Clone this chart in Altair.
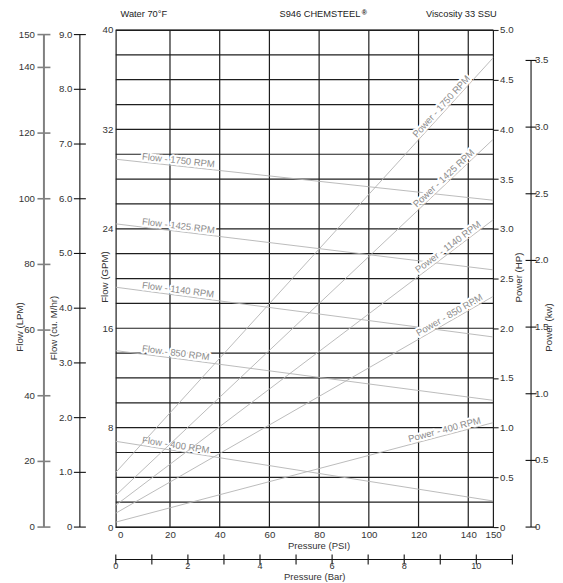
import math
import altair as alt
import pandas as pd

# ---------------- values ----------------
rpm = ["1750", "1425", "1140", "850", "400"]
curve_psi = [-1.8, 150.0]            # curves run from the left border to 150 PSI
flow_1750 = [29.6, 26.3]
flow_1425 = [24.4, 20.7]
flow_1140 = [19.3, 15.3]
flow_850 = [14.2, 10.2]
flow_400 = [6.9, 2.1]
power_1750 = [0.55, 4.72]
power_1425 = [0.32, 3.90]
power_1140 = [0.22, 3.09]
power_850 = [0.14, 2.32]
power_400 = [0.05, 1.05]

flow_label_psi = [8.5, 8.5, 8.5, 8.5, 8.5]
power_label_psi = [120.0, 120.0, 120.5, 120.5, 116.5]

psi_ticks = [0, 20, 40, 60, 80, 100, 120, 140, 150]
psi_grid = [20, 40, 60, 80, 100, 120, 140]
gpm_ticks = [0, 8, 16, 24, 32, 40]
gpm_grid = list(range(0, 41, 2))
hp_ticks = [0, 0.5, 1.0, 1.5, 2.0, 2.5, 3.0, 3.5, 4.0, 4.5, 5.0]
lpm_ticks = [0, 20, 40, 60, 80, 100, 120, 140, 150]
m3h_ticks = [0, 1, 2, 3, 4, 5, 6, 7, 8, 9]
kw_ticks = [0, 0.5, 1.0, 1.5, 2.0, 2.5, 3.0, 3.5]
bar_ticks = list(range(0, 12))
bar_label_ticks = [0, 2, 4, 6, 8, 10]

LPM_PER_GPM = 3.785
M3H_PER_GPM = 0.2271
KW_PER_HP = 0.7457
PSI_PER_BAR = 14.5038

# ---------------- layout constants ----------------
W, H = 378, 498
XMIN, XMAX = -1.8, 150.0
GPM_MAX, HP_MAX = 40, 5
FONT = "Liberation Sans"
GRID = "#1e1e1e"
CURVE = "#b4b4b4"
CURVE_TXT = "#8c8c8c"
TXT = "#333333"
PX_PSI = W / (XMAX - XMIN)
PX_GPM = H / GPM_MAX
PX_HP = H / HP_MAX

flows = [flow_1750, flow_1425, flow_1140, flow_850, flow_400]
powers = [power_1750, power_1425, power_1140, power_850, power_400]

flow_df = pd.DataFrame([{"rpm": r, "psi": p, "gpm": v}
                        for r, vals in zip(rpm, flows) for p, v in zip(curve_psi, vals)])
power_df = pd.DataFrame([{"rpm": r, "psi": p, "hp": v}
                         for r, vals in zip(rpm, powers) for p, v in zip(curve_psi, vals)])


def on_line(vals, p):
    return vals[0] + (vals[1] - vals[0]) * (p - curve_psi[0]) / (curve_psi[1] - curve_psi[0])


def slope(vals):
    return (vals[1] - vals[0]) / (curve_psi[1] - curve_psi[0])


flow_lab = pd.DataFrame([{
    "psi": lp, "gpm": on_line(v, lp), "label": f"Flow - {r} RPM",
    "ang": math.degrees(math.atan(-slope(v) * PX_GPM / PX_PSI))}
    for r, v, lp in zip(rpm, flows, flow_label_psi)])
power_lab = pd.DataFrame([{
    "psi": lp, "hp": on_line(v, lp), "label": f"Power - {r} RPM",
    "ang": 360 - math.degrees(math.atan(slope(v) * PX_HP / PX_PSI))}
    for r, v, lp in zip(rpm, powers, power_label_psi)])

xs = alt.Scale(domain=[XMIN, XMAX], nice=False, zero=False)
ys_gpm = alt.Scale(domain=[0, GPM_MAX], nice=False, zero=False)
ys_hp = alt.Scale(domain=[0, HP_MAX], nice=False, zero=False)

x_axis = alt.Axis(values=psi_ticks, title=None, grid=False, ticks=False, domain=False,
                  labelPadding=2.5, labelFlush=False, labelOverlap=False)
gpm_axis = alt.Axis(orient="left", values=gpm_ticks, title=None, grid=False, ticks=False,
                    domain=False, labelPadding=3, labelFlush=False, labelOverlap=False)
hp_axis = alt.Axis(orient="right", values=hp_ticks, title=None, grid=False, ticks=True,
                   tickSize=5, tickColor="#222", tickWidth=1.1, domain=False, labelPadding=1.5,
                   labelFlush=False, labelOverlap=False,
                   labelExpr="datum.value == 0 ? '0' : format(datum.value, '.1f')")


def X(field="psi"):
    return alt.X(f"{field}:Q", scale=xs, axis=x_axis)


def YG(field="gpm"):
    return alt.Y(f"{field}:Q", scale=ys_gpm, axis=gpm_axis)


def YH(field="hp"):
    return alt.Y(f"{field}:Q", scale=ys_hp, axis=hp_axis)


def one():
    return alt.Data(values=[{}])


def static_text(text, x, y, align="left", angle=0, size=9.7, weight="normal", color=TXT, baseline="alphabetic"):
    return alt.Chart(one()).mark_text(
        text=text, align=align, baseline=baseline, angle=angle, fontSize=size,
        fontWeight=weight, color=color, font=FONT
    ).encode(x=alt.value(x), y=alt.value(y))


# ---------------- left (GPM) group ----------------
hgrid = alt.Chart(pd.DataFrame({"gpm": gpm_grid})).mark_rule(color=GRID, strokeWidth=1.2).encode(y=YG())
vgrid = alt.Chart(pd.DataFrame({"psi": psi_grid})).mark_rule(color=GRID, strokeWidth=1.2).encode(x=X())
flow_lines = alt.Chart(flow_df).mark_line(color=CURVE, strokeWidth=0.9).encode(
    x=X(), y=YG(), detail="rpm:N")
flow_halo = alt.Chart(flow_lab).mark_text(
    align="left", baseline="alphabetic", dy=-2.5, fontSize=9.5, font=FONT,
    fill="white", stroke="white", strokeWidth=4, strokeJoin="round").encode(
    x=X(), y=YG(), text="label:N", angle=alt.Angle("ang:Q", scale=None))
flow_text = alt.Chart(flow_lab).mark_text(
    align="left", baseline="alphabetic", dy=-2.5, fontSize=9.5, font=FONT, color=CURVE_TXT).encode(
    x=X(), y=YG(), text="label:N", angle=alt.Angle("ang:Q", scale=None))

# LPM axis (far left)
lpm_df = pd.DataFrame({"v": lpm_ticks})
lpm_df["gpm"] = lpm_df["v"] / LPM_PER_GPM
lpm_df["lab"] = lpm_df["v"].map(lambda v: f"{v:g}")
lpm_line = alt.Chart(pd.DataFrame({"gpm": [0.0], "gpm2": [max(lpm_ticks) / LPM_PER_GPM]})).mark_rule(
    color="#808080", strokeWidth=2).encode(x=alt.value(-72), y=YG(), y2="gpm2:Q")
lpm_tk = alt.Chart(lpm_df).mark_rule(color="#808080", strokeWidth=1.6).encode(
    x=alt.value(-78.5), x2=alt.value(-65.5), y=YG())
lpm_lab = alt.Chart(lpm_df).mark_text(align="right", baseline="middle", fontSize=9.7, font=FONT,
                                      color=TXT).encode(x=alt.value(-81), y=YG(), text="lab:N")

# cu. M/hr axis
m3_df = pd.DataFrame({"v": m3h_ticks})
m3_df["gpm"] = m3_df["v"] / M3H_PER_GPM
m3_df["lab"] = m3_df["v"].map(lambda v: "0" if v == 0 else f"{v:.1f}")
m3_line = alt.Chart(pd.DataFrame({"gpm": [0.0], "gpm2": [max(m3h_ticks) / M3H_PER_GPM]})).mark_rule(
    color="#111", strokeWidth=1.1).encode(x=alt.value(-36), y=YG(), y2="gpm2:Q")
m3_tk = alt.Chart(m3_df).mark_rule(color="#111", strokeWidth=1.1).encode(
    x=alt.value(-42), x2=alt.value(-30), y=YG())
m3_lab = alt.Chart(m3_df).mark_text(align="right", baseline="middle", fontSize=9.7, font=FONT,
                                    color=TXT).encode(x=alt.value(-43.5), y=YG(), text="lab:N")

# Bar axis (below the PSI axis)
bar_df = pd.DataFrame({"b": bar_ticks})
bar_df["psi"] = XMIN + bar_df["b"] * PSI_PER_BAR
barl_df = pd.DataFrame({"b": bar_label_ticks})
barl_df["psi"] = XMIN + barl_df["b"] * PSI_PER_BAR
barl_df["lab"] = barl_df["b"].map(str)
bar_line = alt.Chart(pd.DataFrame({"psi": [XMIN], "psi2": [XMIN + max(bar_ticks) * PSI_PER_BAR]})).mark_rule(
    color="#111", strokeWidth=1.1).encode(x=X(), x2="psi2:Q", y=alt.value(530.5))
bar_tk = alt.Chart(bar_df).mark_rule(color="#111", strokeWidth=1.1).encode(
    x=X(), y=alt.value(525.5), y2=alt.value(535.5))
bar_lab = alt.Chart(barl_df).mark_text(align="center", baseline="top", fontSize=9.2, font=FONT,
                                       color=TXT).encode(x=X(), y=alt.value(533), text="lab:N")

titles = [
    static_text("Water 70°F", 4.7, -12.8, size=9.3, color="#222"),
    static_text("S946 CHEMSTEEL", 164, -12.8, size=9.3, color="#222"),
    static_text("®", 246.5, -15.5, size=7, weight="bold", color="#222"),
    static_text("Viscosity 33 SSU", 381.7, -12.8, size=9.3, align="right", color="#222"),
    static_text("Flow (LPM)", -96, 297.5, align="center", angle=270, baseline="middle"),
    static_text("Flow (cu. M/hr)", -62, 298.5, align="center", angle=270, baseline="middle"),
    static_text("Flow (GPM)", -11, 247.5, align="center", angle=270, baseline="middle"),
    static_text("Power (HP)", 404, 248, align="center", angle=270, baseline="middle"),
    static_text("Power (kw)", 434, 298, align="center", angle=270, baseline="middle"),
    static_text("Pressure (PSI)", 203.6, 517, align="center", baseline="middle", size=9.5),
    static_text("Pressure (Bar)", 199.3, 548, align="center", baseline="middle", size=9.5),
]

left = alt.layer(hgrid, vgrid, flow_lines, flow_halo, flow_text,
                 lpm_line, lpm_tk, lpm_lab, m3_line, m3_tk, m3_lab,
                 bar_line, bar_tk, bar_lab, *titles)

# ---------------- right (HP) group ----------------
power_lines = alt.Chart(power_df).mark_line(color=CURVE, strokeWidth=0.9).encode(
    x=X(), y=YH(), detail="rpm:N")
power_halo = alt.Chart(power_lab).mark_text(
    align="left", baseline="alphabetic", dy=-2.5, fontSize=9.5, font=FONT,
    fill="white", stroke="white", strokeWidth=4, strokeJoin="round").encode(
    x=X(), y=YH(), text="label:N", angle=alt.Angle("ang:Q", scale=None))
power_text = alt.Chart(power_lab).mark_text(
    align="left", baseline="alphabetic", dy=-2.5, fontSize=9.5, font=FONT, color=CURVE_TXT).encode(
    x=X(), y=YH(), text="label:N", angle=alt.Angle("ang:Q", scale=None))

kw_df = pd.DataFrame({"v": kw_ticks})
kw_df["hp"] = kw_df["v"] / KW_PER_HP
kw_df["lab"] = kw_df["v"].map(lambda v: "0" if v == 0 else f"{v:.1f}")
kw_line = alt.Chart(pd.DataFrame({"hp": [0.0], "hp2": [max(kw_ticks) / KW_PER_HP]})).mark_rule(
    color="#111", strokeWidth=1.1).encode(x=alt.value(416), y=YH(), y2="hp2:Q")
kw_tk = alt.Chart(kw_df).mark_rule(color="#111", strokeWidth=1.1).encode(
    x=alt.value(410.5), x2=alt.value(421.5), y=YH())
kw_lab = alt.Chart(kw_df).mark_text(align="left", baseline="middle", fontSize=9.7, font=FONT,
                                    color=TXT).encode(x=alt.value(420), y=YH(), text="lab:N")

right = alt.layer(power_lines, power_halo, power_text, kw_line, kw_tk, kw_lab)

chart = alt.layer(left, right).resolve_scale(y="independent").properties(
    width=W, height=H,
    autosize=alt.AutoSizeParams(type="none"),
    padding={"left": 108, "top": 21.5, "right": 62, "bottom": 55},
).configure_view(stroke=GRID, strokeWidth=1.2).configure_axis(
    labelFont=FONT, labelFontSize=9.7, labelColor=TXT
)

chart.save("out.html", embed_options={"renderer": "svg", "actions": False})
